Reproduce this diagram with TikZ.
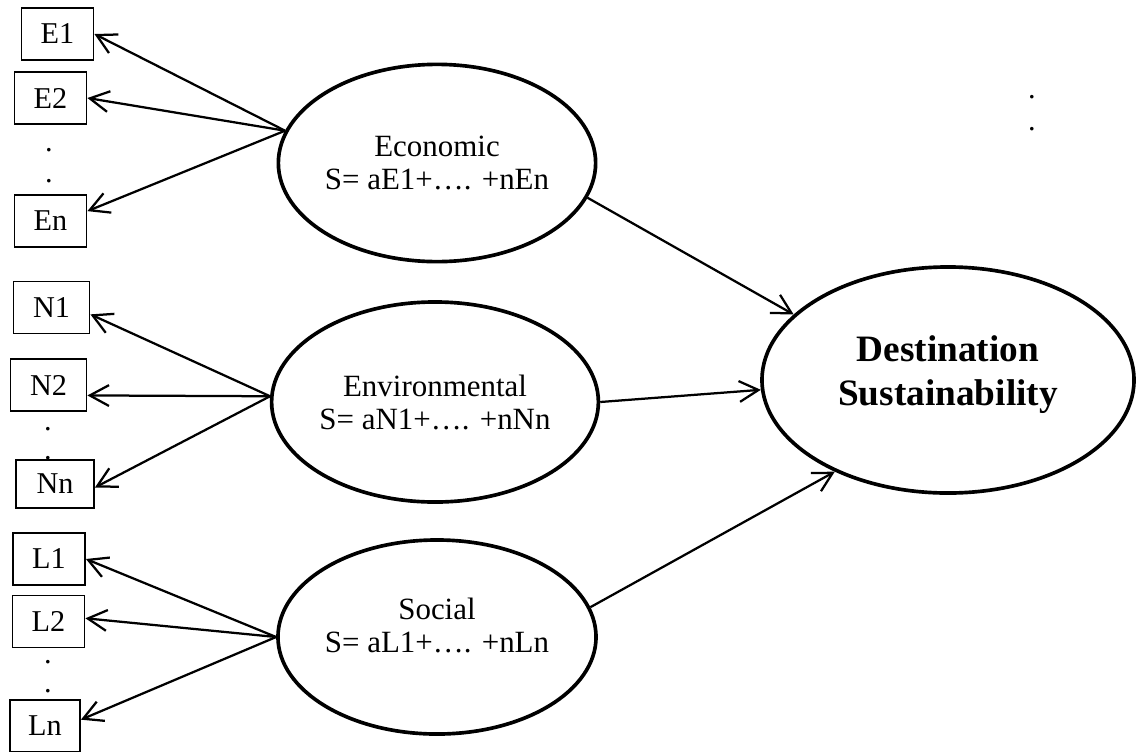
\documentclass[tikz,border=0pt]{standalone}
\usepackage{fontspec}
\setmainfont{Liberation Serif}
\usetikzlibrary{shapes.geometric,arrows.meta}

\begin{document}
\begin{tikzpicture}[x=0.025cm,y=-0.025cm,
    item/.style={rectangle,draw,line width=1.3pt,minimum width=1.8cm,minimum height=1.3cm,inner sep=0pt,font=\fontsize{21.5}{25}\selectfont},
    factor/.style={ellipse,draw,line width=2.6pt,inner sep=0pt,align=center,font=\fontsize{22}{23.5}\selectfont},
    gap/.style={inner sep=0pt,font=\fontsize{21.5}{25}\selectfont},
    load/.style={-{Straight Barb[length=0.48cm,width=0.52cm]},line width=1.6pt}]

\useasboundingbox (0,0) rectangle (1136,751);

% indicators
\node[item] (E1) at (57.5,34) {E1};
\node[item] (E2) at (50.5,98) {E2};
\node[gap] (Ed1) at (49,150) {.};
\node[gap] (Ed2) at (49,181) {.};
\node[item] (En) at (50.5,221) {En};

\node[item,minimum width=1.9cm] (N1) at (51.5,307.5) {N1};
\node[item,minimum width=1.9cm] (N2) at (48.5,385) {N2};
\node[gap] (Nd1) at (48,429) {.};
\node[gap] (Nd2) at (48,458) {.};
\node[item,minimum width=1.95cm,minimum height=1.2cm] (Nn) at (55,484) {Nn};

\node[item] (L1) at (49,559) {L1};
\node[item] (L2) at (48.5,621.5) {L2};
\node[gap] (Ld1) at (48,662) {.};
\node[gap] (Ld2) at (48,691) {.};
\node[item,minimum width=1.75cm] (Ln) at (45,726) {Ln};

% factors
\node[factor,minimum width=7.93cm,minimum height=4.93cm] (eco) at (437,163) {Economic\\S= aE1+…. +nEn};
\node[factor,minimum width=8cm,minimum height=5cm] (env) at (435,402) {Environmental\\S= aN1+…. +nNn};
\node[factor,minimum width=7.95cm,minimum height=4.85cm,text depth=0.6cm] (soc) at (437,637) {Social\\S= aL1+…. +nLn};
\node[factor,minimum width=9.3cm,minimum height=5.65cm,text depth=0.48cm,font=\fontsize{26.5}{31}\selectfont\bfseries] (dest) at (948,380) {Destination\\Sustainability};

\node[gap] (Td1) at (1032,97) {.};
\node[gap] (Td2) at (1032,129) {.};

\draw[load] (eco.168) -- (E1.east);
\draw[load] (eco.168) -- (E2.east);
\draw[load] (eco.168) -- (En.15);

\draw[load] (env.178) -- (N1.-10);
\draw[load] (env.178) -- (N2.-15);
\draw[load] (env.178) -- (Nn.-5);

\draw[load] (soc.west) -- (L1.east);
\draw[load] (soc.west) -- (L2.5);
\draw[load] (soc.west) -- (Ln.10);

\draw[load] (eco.-13) -- (dest.157);
\draw[load] (env.east) -- (dest.183);
\draw[load] (soc.11) -- (dest.219);
\end{tikzpicture}
\end{document}
